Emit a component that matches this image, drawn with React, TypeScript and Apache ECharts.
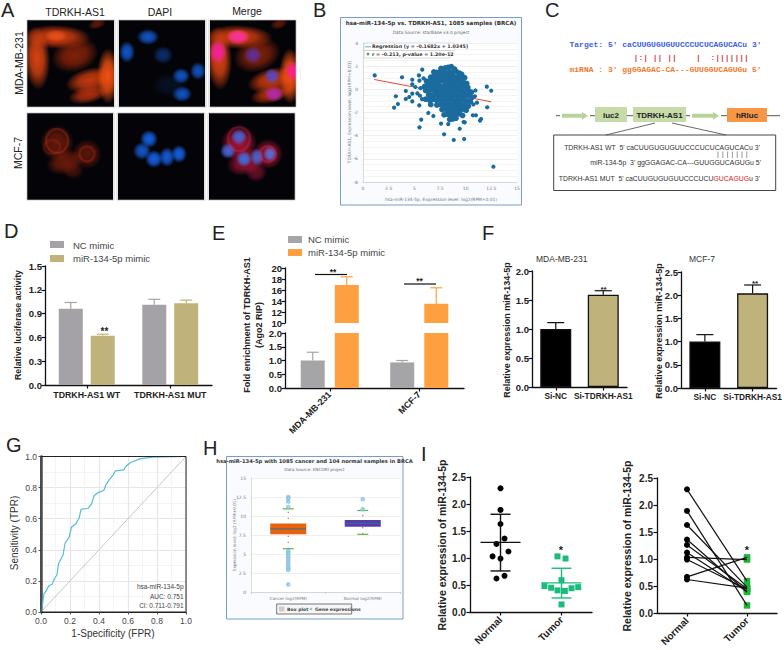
import React, { useEffect, useRef } from "react";
import * as echarts from "echarts";

const SANS = "Liberation Sans";
const MONO = "Liberation Mono";

// ---------- Panel A: micrograph blobs [cx, cy, rx, ry, rotation, "r,g,b", alpha]
const cellsTopRed: any[] = [
  [57, 37, 34, 12, -0.03, "215,62,14", 0.95],
  [56, 36, 12, 6, 0, "245,90,30", 0.7],
  [37, 58, 13, 32, 0.05, "225,70,18", 0.95],
  [75, 55, 24, 17, 0.3, "150,38,10", 0.85],
  [90, 80, 25, 12, 0.25, "205,60,15", 0.95],
  [89, 94, 21, 9, 0.25, "190,52,14", 0.9],
  [108, 76, 11, 28, 0, "240,80,18", 1],
  [97, 24, 9, 5, 0.3, "130,32,10", 0.7],
];
const cellsTopBlue: any[] = [
  [148, 37, 11, 8, 0, "18,85,200", 1],
  [127, 52, 8, 11, 0, "18,85,200", 1],
  [163, 55, 10, 9, 0, "14,55,130", 0.8],
  [181, 76, 9, 8, 0, "18,85,200", 1],
  [198, 71, 8, 9, 0, "18,80,190", 1],
  [182, 94, 10, 8, 0, "18,85,200", 1],
  [170, 85, 18, 12, 0, "10,40,90", 0.35],
];
const cellsBottomRed: any[] = [
  [57, 143, 17, 18, 0, "165,38,12", 0.6],
  [87, 154, 15, 15, 0, "160,36,12", 0.55],
  [65, 162, 19, 12, 0.3, "170,40,12", 0.6],
  [73, 170, 11, 9, 0, "130,30,12", 0.5],
];
const cellsBottomBlue: any[] = [
  [149, 139, 9, 9, 0, "22,95,225", 1],
  [142, 151, 9, 9, 0, "22,85,200", 1],
  [154, 159, 9, 9, 0, "22,95,225", 1],
  [167, 157, 8, 10, 0, "22,90,215", 1],
  [179, 154, 8, 9, 0, "22,95,225", 1],
];
const mergeTopNuclei: any[] = [
  [238, 37, 12, 8, 0, "250,45,165", 0.95],
  [218, 52, 9, 12, 0, "250,30,165", 0.95],
  [253, 55, 9, 9, 0, "90,50,180", 0.85],
  [272, 76, 8, 8, 0, "85,70,210", 0.95],
  [293, 71, 8, 10, 0, "250,30,145", 1],
  [274, 94, 10, 8, 0, "180,40,180", 0.95],
];
const mergeBottomRed: any[] = [
  [239, 143, 18, 18, 0, "215,25,65", 0.75],
  [268, 154, 15, 15, 0, "215,25,65", 0.7],
  [246, 162, 20, 13, 0.3, "205,25,65", 0.7],
  [256, 172, 11, 10, 0, "165,22,55", 0.6],
];
const mergeBottomBlue: any[] = [
  [239, 137, 8, 8, 0, "70,100,215", 1],
  [228, 151, 8, 8, 0, "70,100,215", 1],
  [244, 159, 8, 8, 0, "60,110,225", 1],
  [257, 157, 7, 9, 0, "70,100,205", 1],
  [270, 154, 7, 8, 0, "90,110,215", 1],
];
// [cx, cy, rx, ry, color]
const ringsBottom: any[] = [
  [57, 141, 11, 12, "rgba(215,65,25,0.28)"],
  [87, 154, 7.5, 7.5, "rgba(205,55,20,0.25)"],
  [52, 147, 8, 7, "rgba(195,50,20,0.2)"],
  [239, 139, 11, 12, "rgba(240,50,90,0.25)"],
  [268, 154, 8, 8, "rgba(240,50,90,0.25)"],
];
const imagePanels = [
  [27, 20, 88, 87], [118, 20, 88, 87], [209, 20, 87, 87],
  [27, 113, 87, 87], [117, 113, 88, 87], [208, 113, 87, 87],
];

// ---------- Panel B
const bRegression = [[1.1, 0.85], [12.5, -1.08]];
const bOutliers = [
  [1.14, 1.2], [3.03, -1.58], [3.2, -0.6], [3.4, -1.27], [3.8, 1.04], [4.17, -0.14], [4.17, -0.83], [4.5, -0.66],
  [4.8, 0.83], [4.8, 0.43], [4.8, -0.37], [4.8, -1.04], [5.1, 0.2], [5.45, 1.2], [5.48, -1.38], [5.77, 1.7],
  [5.67, -2.62], [5.5, -3.28], [6.36, -2.04], [6.85, -2.3], [7.6, -2.96], [7.9, -3.88], [8.84, -4.37], [9.85, -4.29],
  [9.42, -3.4], [8.3, -3.0], [12.7, -6.68], [12.06, 0.23], [12.49, -0.12], [12.1, -1.55], [11.0, -2.24], [10.7, -2.24],
  [11.5, -2.56], [11.4, -2.7], [9.8, -2.82], [9.9, -2.85], [5.5, 0.75], [5.9, 0.95], [5.6, 0.1], [5.3, -0.35],
  [5.75, -0.85], [5.55, -0.55], [10.9, -0.6], [11.1, -1.15], [10.75, -1.3], [10.95, -0.1],
];
const bCloud = [
  [7.6, 1.8], [8.0, 1.85], [8.3, 1.9], [8.6, 1.95], [8.9, 1.75],
  [6.9, 1.5], [7.2, 1.45], [7.5, 1.5], [7.85, 1.55], [8.15, 1.4], [8.45, 1.5], [8.75, 1.45], [9.05, 1.55], [9.35, 1.4], [9.6, 1.3],
  [6.6, 1.05], [6.9, 1.1], [7.2, 1.0], [7.5, 1.15], [7.8, 1.05], [8.1, 1.1], [8.4, 1.0], [8.7, 1.15], [9.0, 1.05], [9.3, 1.1], [9.6, 0.95], [9.9, 1.0],
  [6.2, 0.7], [6.55, 0.65], [6.85, 0.75], [7.15, 0.6], [7.45, 0.7], [7.75, 0.8], [8.05, 0.65], [8.35, 0.7], [8.65, 0.75], [8.95, 0.6], [9.25, 0.7], [9.55, 0.65], [9.85, 0.55], [10.1, 0.5],
  [6.0, 0.25], [6.3, 0.3], [6.6, 0.2], [6.9, 0.35], [7.2, 0.25], [7.5, 0.3], [7.8, 0.2], [8.1, 0.35], [8.4, 0.25], [8.7, 0.3], [9.0, 0.2], [9.3, 0.35], [9.6, 0.25], [9.9, 0.3], [10.2, 0.15],
  [6.1, -0.1], [6.4, -0.15], [6.7, -0.05], [7.0, -0.1], [7.3, -0.2], [7.6, -0.05], [7.9, -0.15], [8.2, -0.1], [8.5, 0.0], [8.8, -0.15], [9.1, -0.05], [9.4, -0.1], [9.7, -0.2], [10.0, -0.05], [10.3, -0.15], [10.55, -0.25],
  [6.4, -0.5], [6.7, -0.55], [7.0, -0.45], [7.3, -0.6], [7.6, -0.5], [7.9, -0.55], [8.2, -0.45], [8.5, -0.6], [8.8, -0.5], [9.1, -0.55], [9.4, -0.45], [9.7, -0.6], [10.0, -0.5], [10.3, -0.55], [10.6, -0.7],
  [6.1, -0.85], [6.5, -0.95], [6.85, -0.85], [7.15, -0.95], [7.45, -0.9], [7.75, -1.0], [8.05, -0.85], [8.35, -0.95], [8.65, -0.9], [8.95, -1.0], [9.25, -0.85], [9.55, -0.95], [9.85, -0.9], [10.15, -1.0], [10.45, -1.05],
  [6.6, -1.3], [7.2, -1.35], [7.55, -1.3], [7.85, -1.4], [8.15, -1.3], [8.45, -1.4], [8.75, -1.3], [9.05, -1.4], [9.35, -1.3], [9.65, -1.4], [9.95, -1.3], [10.25, -1.45],
  [7.7, -1.75], [8.0, -1.7], [8.3, -1.8], [8.6, -1.7], [8.9, -1.8], [9.2, -1.7], [9.5, -1.75], [9.8, -1.7], [10.05, -1.8],
  [7.9, -2.2], [8.2, -2.15], [8.5, -2.25], [8.8, -2.15], [9.1, -2.2], [9.4, -2.1], [9.7, -2.25], [8.45, -2.6], [8.75, -2.55], [9.05, -2.5],
  [8.0, 0.5], [8.6, 0.5], [9.15, 0.45], [7.35, 0.45], [7.7, -0.35], [8.3, -0.3], [8.95, -0.3], [9.55, -0.3], [8.1, -1.15], [8.8, -1.15], [9.4, -1.15], [8.45, -1.55], [9.05, -1.55], [7.7, 1.3], [8.6, 1.3], [8.55, -1.95], [9.15, -1.95],
];
const bTicksX = ["0", "2.5", "5", "7.5", "10", "12.5", "15"];

// ---------- Panel D
const dCategories = ["TDRKH-AS1 WT", "TDRKH-AS1 MUT"];
const dNc = [0.96, 1.01];
const dMir = [0.62, 1.03];
const dNcHigh = [1.04, 1.08];
const dMirHigh = [0.64, 1.07];

// ---------- Panel E
const eCategories = ["MDA-MB-231", "MCF-7"];
const eNc = [1.0, 0.93];
const eMir = [16.9, 13.5];
const eNcHigh = [1.3, 1.0];
const eMirHigh = [18.4, 16.4];

// ---------- Panel F
const fCategories = ["Si-NC", "Si-TDRKH-AS1"];
const f1Values = [1.0, 1.59];
const f1High = [1.11, 1.66];
const f2Values = [1.0, 2.04];
const f2High = [1.15, 2.22];

// ---------- Panel G
const rocCurve = [
  [0, 0], [0.01, 0.045], [0.02, 0.116], [0.037, 0.137], [0.053, 0.167], [0.078, 0.18], [0.094, 0.217], [0.11, 0.238],
  [0.12, 0.309], [0.134, 0.335], [0.152, 0.367], [0.166, 0.442], [0.194, 0.481], [0.21, 0.545], [0.24, 0.567],
  [0.263, 0.603], [0.276, 0.66], [0.325, 0.667], [0.348, 0.695], [0.366, 0.747], [0.394, 0.768], [0.433, 0.781],
  [0.447, 0.817], [0.47, 0.85], [0.498, 0.882], [0.514, 0.908], [0.571, 0.914], [0.585, 0.936], [0.618, 0.961],
  [0.682, 0.985], [0.77, 0.996], [1, 1],
];
const rocDiagonal = [[0, 0], [1, 1]];

// ---------- Panel H: [category, low whisker, q1, median, q3, high whisker]
const hCategories = ["Cancer log2(RPM)", "Normal log2(RPM)"];
const hBoxes = [
  [0, 5.69, 7.59, 8.3, 9.0, 10.94],
  [1, 7.59, 8.6, 9.04, 9.48, 10.72],
];
const hOutliers = [
  [0, 12.5], [0, 12.3], [0, 11.9], [0, 11.2], [0, 5.4], [0, 5.15], [0, 4.9], [0, 4.6], [0, 4.3], [0, 4.0], [0, 3.7],
  [0, 3.4], [0, 3.1], [0, 2.9], [0, 1.0], [1, 12.2], [1, 10.9],
];
const hBoxColors = ["#e8620c", "#5a3aa8"];

// ---------- Panel I
const iCategories = ["Normal", "Tumor"];
const iNormal = [[0, 2.29], [0, 1.89], [0, 1.63], [0.066, 1.36], [-0.066, 1.26], [0.13, 1.12], [-0.13, 1.03], [0, 0.99], [0.066, 0.67], [-0.066, 0.62]];
const iTumor = [[0.934, 1.03], [1.066, 0.99], [1, 0.59], [0.72, 0.48], [0.83, 0.45], [0.934, 0.4], [1.055, 0.39], [1.164, 0.44], [1.274, 0.46], [1, 0.14]];
// [x, mean, sd low, sd high]
const iNormalSummary = [[0, 1.29, 0.76, 1.81]];
const iTumorSummary = [[1, 0.54, 0.26, 0.81]];
const pairedNormal = [2.29, 1.89, 1.63, 1.36, 1.26, 1.12, 1.03, 0.99, 0.67, 0.62];
const pairedTumor = [0.59, 0.14, 0.48, 0.39, 0.45, 0.4, 0.99, 0.44, 1.03, 0.46];

// ---------- helpers
const T = (text: string, x: number, y: number, o: any = {}) => ({
  type: "text",
  x,
  y,
  z: 100,
  rotation: o.rot || 0,
  silent: true,
  style: {
    text,
    fill: o.color || "#222",
    fontSize: o.size || 9,
    fontWeight: o.weight || "normal",
    fontFamily: o.family || SANS,
    align: o.align || "left",
    textAlign: o.align || "left",
    verticalAlign: "middle",
    textVerticalAlign: "middle",
    rich: o.rich,
  },
});
const R = (x: number, y: number, w: number, h: number, fill: string, stroke?: string, z = 0, lw = 1) => ({
  type: "rect",
  z,
  silent: true,
  shape: { x, y, width: w, height: h },
  style: { fill, stroke: stroke || "none", lineWidth: lw },
});
const L = (x1: number, y1: number, x2: number, y2: number, stroke = "#222", lineWidth = 1) => ({
  type: "line",
  z: 100,
  silent: true,
  shape: { x1, y1, x2, y2 },
  style: { stroke, lineWidth },
});
const blob = (c: any[], dx = 0) => ({
  type: "ellipse",
  x: c[0] + dx,
  y: c[1],
  rotation: c[4],
  z: 1,
  silent: true,
  shape: { cx: 0, cy: 0, rx: c[2], ry: c[3] },
  style: {
    fill: {
      type: "radial",
      x: 0.5,
      y: 0.5,
      r: 0.5,
      colorStops: [
        { offset: 0, color: `rgba(${c[5]},${c[6]})` },
        { offset: 0.5, color: `rgba(${c[5]},${c[6] * 0.8})` },
        { offset: 0.8, color: `rgba(${c[5]},${c[6] * 0.35})` },
        { offset: 1, color: `rgba(${c[5]},0)` },
      ],
    },
  },
});
const ring = (c: any[]) => ({
  type: "ellipse",
  z: 1,
  silent: true,
  shape: { cx: c[0], cy: c[1], rx: c[2], ry: c[3] },
  style: { fill: "none", stroke: c[4], lineWidth: 2.5 },
});
const arrow = (x1: number, x2: number, y: number) => ({
  type: "polygon",
  z: 100,
  silent: true,
  shape: {
    points: [[x1, y - 2], [x2 - 6, y - 2], [x2 - 6, y - 4], [x2, y], [x2 - 6, y + 4], [x2 - 6, y + 2], [x1, y + 2]],
  },
  style: { fill: "#b7d39a" },
});

const errorSeries = (axis: number, items: number[][], color: string, dx: number, cap: number, lw = 1.2) => ({
  type: "custom",
  xAxisIndex: axis,
  yAxisIndex: axis,
  silent: true,
  clip: false,
  z: 5,
  encode: { x: 0, y: [1, 2] },
  data: items,
  renderItem: (_p: any, api: any) => {
    const a = api.coord([api.value(0), api.value(1)]);
    const b = api.coord([api.value(0), api.value(2)]);
    const x = a[0] + dx;
    const st = { stroke: color, lineWidth: lw };
    return {
      type: "group",
      children: [
        { type: "line", shape: { x1: x, y1: a[1], x2: x, y2: b[1] }, style: st },
        { type: "line", shape: { x1: x - cap / 2, y1: b[1], x2: x + cap / 2, y2: b[1] }, style: st },
      ],
    };
  },
});
const triples = (vals: number[], highs: number[]) => vals.map((v, i) => [i, v, highs[i]]);

const summarySeries = (axis: number, items: number[][], color: string) => ({
  type: "custom",
  xAxisIndex: axis,
  yAxisIndex: axis,
  silent: true,
  z: 6,
  encode: { x: 0, y: [1, 2, 3] },
  data: items,
  renderItem: (_p: any, api: any) => {
    const m = api.coord([api.value(0), api.value(1)]);
    const lo = api.coord([api.value(0), api.value(2)]);
    const hi = api.coord([api.value(0), api.value(3)]);
    const st = { stroke: color, lineWidth: 1.4 };
    const h = (y: number, half: number) => ({ type: "line", shape: { x1: m[0] - half, y1: y, x2: m[0] + half, y2: y }, style: st });
    return {
      type: "group",
      children: [
        { type: "line", shape: { x1: m[0], y1: lo[1], x2: m[0], y2: hi[1] }, style: st },
        h(m[1], 20),
        h(lo[1], 10),
        h(hi[1], 10),
      ],
    };
  },
});

const boldLabel = (extra: any = {}) => ({ fontFamily: SANS, fontWeight: "bold", fontSize: 9.5, color: "#222", margin: 3, ...extra });
const darkLine = { show: true, onZero: false, lineStyle: { color: "#111", width: 1.3 } };
const darkTick = { show: true, length: 3.5, lineStyle: { color: "#111", width: 1.2 } };
const valueY = (gridIndex: number, min: number, max: number, interval: number, digits = 1, extra: any = {}) => ({
  type: "value",
  gridIndex,
  min,
  max,
  interval,
  axisLine: darkLine,
  axisTick: darkTick,
  splitLine: { show: false },
  axisLabel: boldLabel({ formatter: (v: number) => v.toFixed(digits) }),
  ...extra,
});
const catX = (gridIndex: number, data: string[], label: any = {}, extra: any = {}) => ({
  type: "category",
  gridIndex,
  data,
  axisLine: darkLine,
  axisTick: { ...darkTick, alignWithLabel: true },
  splitLine: { show: false },
  axisLabel: boldLabel({ interval: 0, margin: 5, ...label }),
  ...extra,
});
const bars = (axis: number, data: any[], color: string, barWidth: number, barGap: string) => ({
  type: "bar",
  xAxisIndex: axis,
  yAxisIndex: axis,
  data,
  barWidth,
  barGap,
  silent: true,
  itemStyle: { color },
});

// ---------- graphic layer
function buildGraphics(): any[] {
  const g: any[] = [];
  // A
  imagePanels.forEach((p) => g.push(R(p[0], p[1], p[2], p[3], "#040408")));
  cellsTopRed.forEach((c) => g.push(blob(c)));
  cellsTopBlue.forEach((c) => g.push(blob(c)));
  cellsTopRed.forEach((c) => g.push(blob(c, 182)));
  mergeTopNuclei.forEach((c) => g.push(blob(c)));
  cellsBottomRed.forEach((c) => g.push(blob(c)));
  cellsBottomBlue.forEach((c) => g.push(blob(c)));
  mergeBottomRed.forEach((c) => g.push(blob(c)));
  mergeBottomBlue.forEach((c) => g.push(blob(c)));
  ringsBottom.forEach((c) => g.push(ring(c)));
  imagePanels.forEach((p) => {
    g.push(R(p[0] - 2, p[1] - 2, p[2] + 4, p[3] + 4, "none", "#ffffff", 2, 4));
    g.push(R(p[0], p[1], p[2], p[3], "none", "#b8b8b8", 3, 0.7));
  });
  g.push(T("TDRKH-AS1", 75, 11.5, { size: 10.5, align: "center" }));
  g.push(T("DAPI", 160, 11.5, { size: 10.5, align: "center" }));
  g.push(T("Merge", 247, 10.5, { size: 10.5, align: "center" }));
  g.push(T("MDA-MB-231", 19, 63, { size: 10.5, align: "center", rot: Math.PI / 2 }));
  g.push(T("MCF-7", 18, 153, { size: 10.5, align: "center", rot: Math.PI / 2 }));

  // panel letters
  [["A", 1, 10], ["B", 313, 10], ["C", 545, 10], ["D", 4, 231], ["E", 212, 233], ["F", 482, 233], ["G", 6, 445], ["H", 203, 448], ["I", 421, 454]].forEach((l: any) =>
    g.push(T(l[0], l[1], l[2], { size: 20 }))
  );

  // B frame
  g.push(R(340.5, 17.5, 181, 187.5, "#f9fbff", "#7a9cc8", 0, 1));
  g.push(R(363, 43, 154, 139, "#ffffff"));
  g.push(T("hsa-miR-134-5p vs. TDRKH-AS1, 1085 samples (BRCA)", 431, 23, { size: 5.6, weight: "bold", align: "center", family: "DejaVu Sans", color: "#333" }));
  g.push(T("Data Source: starBase v3.0 project", 431, 32, { size: 4.4, align: "center", family: "DejaVu Sans", color: "#666" }));
  g.push(T("TDRKH-AS1, Expression level: log2(RPM+0.01)", 349, 112, { size: 4.4, align: "center", rot: Math.PI / 2, family: "DejaVu Sans", color: "#777" }));
  g.push(T("hsa-miR-134-5p, Expression level: log2(RPM+0.01)", 441, 199, { size: 4.4, align: "center", family: "DejaVu Sans", color: "#777" }));
  g.push({ ...R(364, 43, 90, 7.5, "rgba(255,255,255,0.9)", "#bbbbbb", 100, 0.5) });
  g.push({ ...R(364, 50.5, 86, 7.5, "rgba(255,255,255,0.9)", "#bbbbbb", 100, 0.5) });
  g.push({ ...L(365, 46.8, 371, 46.8, "#2f8fd0", 0.8), z: 101 });
  g.push({ type: "circle", z: 101, silent: true, shape: { cx: 368, cy: 54, r: 1.4 }, style: { fill: "#4caf50" } });
  g.push({ ...T("Regression (y = -0.1682x + 1.0345)", 372, 46.8, { size: 4.8, weight: "bold", family: "DejaVu Sans", color: "#333" }), z: 101 });
  g.push({ ...T("r = -0.213, p-value = 1.20e-12", 372, 54, { size: 4.8, weight: "bold", family: "DejaVu Sans", color: "#333" }), z: 101 });

  // C
  g.push(T("Target: 5' caCUUGUGUGUUCCCUCUCAGUCACu 3'", 569.5, 44.7, { size: 8, weight: "bold", family: MONO, color: "#3c5fe0" }));
  g.push(T("  |:| || ||    |  :|||||||", 624, 57, { size: 8, weight: "bold", family: MONO, color: "#d8404a" }));
  g.push(T("miRNA : 3' ggGGAGAC-CA---GUUGGUCAGUGu 5'", 569.5, 69.3, { size: 8, weight: "bold", family: MONO, color: "#f07a2c" }));
  g.push(L(556, 115.7, 780, 115.7, "#555", 1));
  g.push({ ...R(560, 112, 30, 8, "#ffffff"), z: 100 });
  g.push({ ...R(690, 112, 31, 8, "#ffffff"), z: 100 });
  g.push({ ...arrow(562, 588, 115.7), z: 101 });
  g.push({ ...arrow(692, 719, 115.7), z: 101 });
  g.push({ ...R(595, 107, 32, 15, "#c6dba8"), z: 100 });
  g.push({ ...R(633, 107, 53, 15, "#c6dba8"), z: 100 });
  g.push({ ...R(727, 108, 40, 14, "#f79646"), z: 100 });
  g.push({ ...T("luc2", 611, 115, { size: 8, weight: "bold", align: "center" }), z: 101 });
  g.push({ ...T("TDRKH-AS1", 659.5, 115, { size: 8, weight: "bold", align: "center" }), z: 101 });
  g.push({ ...T("hRluc", 747, 115, { size: 8, weight: "bold", align: "center" }), z: 101 });
  g.push(L(655, 123, 606, 135, "#444", 0.8));
  g.push(L(672, 123, 726, 135, "#444", 0.8));
  g.push(R(553.7, 135, 222, 55.5, "#ffffff", "#444", 0, 1));
  g.push(T("TDRKH-AS1 WT  5' caCUUGUGUGUUCCCUCUCAGUCACu 3'", 760, 147, { size: 6.9, align: "right", color: "#333" }));
  for (let i = 0; i < 7; i++) g.push(L(718 + i * 4.8, 151.5, 718 + i * 4.8, 158, "#555", 0.6));
  g.push(T("miR-134-5p  3' ggGGAGAC-CA---GUUGGUCAGUGu 5'", 761, 162.7, { size: 6.9, align: "right", color: "#333" }));
  g.push(
    T("{a|TDRKH-AS1 MUT  5' caCUUGUGUGUUCCCUCU}{b|GUCAGUG}{a|u 3'}", 760, 178, {
      size: 6.9,
      align: "right",
      color: "#333",
      rich: {
        a: { fontSize: 6.9, fontFamily: SANS, fill: "#333", color: "#333" },
        b: { fontSize: 6.9, fontFamily: SANS, fill: "#e02020", color: "#e02020" },
      },
    })
  );

  // D
  g.push(R(50, 241, 14, 7, "#a4a2a6"));
  g.push(R(50, 255, 14, 7, "#bfb27a"));
  g.push(T("NC mimic", 73, 245, { size: 9.5, color: "#444" }));
  g.push(T("miR-134-5p mimic", 73, 258.5, { size: 9.5, color: "#444" }));
  g.push(T("Relative luciferase activity", 18, 325, { size: 8.8, weight: "bold", align: "center", rot: Math.PI / 2 }));
  g.push(T("**", 104.5, 331, { size: 10, weight: "bold", align: "center" }));

  // E
  g.push(R(288, 236, 14, 7, "#a5a4a6"));
  g.push(R(288, 249, 14, 7, "#ffa040"));
  g.push(T("NC mimic", 308, 239.5, { size: 9.5, color: "#444" }));
  g.push(T("miR-134-5p mimic", 308, 252.5, { size: 9.5, color: "#444" }));
  g.push(T("Fold enrichment of TDRKH-AS1", 247, 325, { size: 9, weight: "bold", align: "center", rot: Math.PI / 2 }));
  g.push(T("(Ago2 RIP)", 259, 325, { size: 9, weight: "bold", align: "center", rot: Math.PI / 2 }));
  g.push(L(315, 274.5, 347, 274.5, "#111", 1.2));
  g.push(L(404, 284, 436, 284, "#111", 1.2));
  g.push(T("**", 333, 271.5, { size: 8.5, weight: "bold", align: "center" }));
  g.push(T("**", 419.5, 281, { size: 8.5, weight: "bold", align: "center" }));

  // F
  g.push(T("MDA-MB-231", 536, 259, { size: 8.5, color: "#333" }));
  g.push(T("MCF-7", 689, 259, { size: 8.5, color: "#333" }));
  g.push(T("Relative expression miR-134-5p", 507, 330, { size: 9, weight: "bold", align: "center", rot: Math.PI / 2 }));
  g.push(T("Relative expression miR-134-5p", 659, 331, { size: 9, weight: "bold", align: "center", rot: Math.PI / 2 }));
  g.push(T("**", 603.5, 289, { size: 8, weight: "bold", align: "center" }));
  g.push(T("**", 755, 283, { size: 8, weight: "bold", align: "center" }));

  // G
  g.push(R(41, 456.5, 145, 155.5, "none", "#222", 100, 1));
  g.push(T("Sensitivity (TPR)", 14, 533, { size: 10, align: "center", rot: Math.PI / 2, color: "#333" }));
  g.push(T("1-Specificity (FPR)", 113, 633.5, { size: 10, align: "center", color: "#333" }));
  g.push(T("hsa-miR-134-5p", 183.5, 586.5, { size: 6.5, align: "right", color: "#444" }));
  g.push(T("AUC: 0.751", 183.5, 596, { size: 6.5, align: "right", color: "#444" }));
  g.push(T("CI: 0.711-0.791", 183.5, 605, { size: 6.5, align: "right", color: "#444" }));

  // H
  g.push(R(226.5, 456.5, 176.5, 162.5, "#f9fbff", "#7a9cc8", 0, 1));
  g.push(R(251, 478, 149, 114, "#ffffff"));
  g.push(T("hsa-miR-134-5p with 1085 cancer and 104 normal samples in BRCA", 314.5, 461, { size: 5.2, weight: "bold", align: "center", family: "DejaVu Sans", color: "#333" }));
  g.push(T("Data Source: ENCORI project", 314.5, 469.5, { size: 4.2, align: "center", family: "DejaVu Sans", color: "#666" }));
  g.push(T("Expression level: log2 (RPM+0.01)", 234, 535, { size: 4.2, align: "center", rot: Math.PI / 2, family: "DejaVu Sans", color: "#777" }));
  g.push(R(276.7, 604, 75, 10, "#f6f6f6", "#555", 0, 0.8));
  g.push({ ...R(279, 606.5, 5.5, 5, "#cccccc"), z: 100 });
  g.push(T("Box plot", 287, 609, { size: 4.6, weight: "bold", family: "DejaVu Sans", color: "#444" }));
  g.push({ type: "circle", z: 100, silent: true, shape: { cx: 311, cy: 609, r: 1.3 }, style: { fill: "#8ac6e8" } });
  g.push(T("Gene expressions", 315, 609, { size: 4.6, weight: "bold", family: "DejaVu Sans", color: "#444" }));

  // I
  g.push(T("Relative expression of miR-134-5p", 442, 545, { size: 10.5, weight: "bold", align: "center", rot: Math.PI / 2 }));
  g.push(T("Relative expression of miR-134-5p", 627, 546, { size: 10.5, weight: "bold", align: "center", rot: Math.PI / 2 }));
  g.push(T("*", 561, 550, { size: 11, weight: "bold", align: "center" }));
  g.push(T("*", 747, 550, { size: 11, weight: "bold", align: "center" }));
  return g;
}

function buildOption(): any {
  const grids = [
    { left: 363, top: 43, width: 154, height: 139 }, // 0 B
    { left: 45, top: 266, width: 167, height: 119 }, // 1 D
    { left: 285, top: 268, width: 179, height: 55 }, // 2 E upper
    { left: 285, top: 333, width: 179, height: 55 }, // 3 E lower
    { left: 532, top: 271, width: 95, height: 116 }, // 4 F1
    { left: 681, top: 272, width: 99, height: 116 }, // 5 F2
    { left: 41, top: 456.5, width: 145, height: 155.5 }, // 6 G
    { left: 251, top: 478, width: 149, height: 114 }, // 7 H
    { left: 470, top: 477, width: 122, height: 135 }, // 8 I1
    { left: 657, top: 478, width: 120, height: 135 }, // 9 I2
  ];
  const xAxis: any[] = [
    {
      type: "value", gridIndex: 0, min: 0, max: 15, interval: 2.5,
      axisLine: { show: true, onZero: false, lineStyle: { color: "#ccc", width: 0.7 } }, axisTick: { show: false }, splitLine: { show: false },
      axisLabel: { fontSize: 4.5, color: "#777", fontFamily: "DejaVu Sans", margin: 4, formatter: (_v: number, i: number) => bTicksX[i] },
    },
    catX(1, dCategories, { fontSize: 8.8 }),
    catX(2, eCategories, {}, { show: false }),
    catX(3, eCategories, { rotate: 45, fontSize: 9 }),
    catX(4, fCategories, { fontSize: 8.3 }),
    catX(5, fCategories, { fontSize: 8.3 }),
    {
      type: "value", gridIndex: 6, min: 0, max: 1, interval: 0.2,
      axisLine: { show: true, onZero: false, lineStyle: { color: "#222", width: 1 } },
      axisTick: { show: true, length: 2.5, lineStyle: { color: "#555" } },
      axisLabel: { fontSize: 8.5, color: "#444", fontFamily: SANS, margin: 4, formatter: (v: number) => v.toFixed(1) },
      splitLine: { show: true, lineStyle: { color: "#e6e6e6", width: 1.2 } },
      minorTick: { show: false, splitNumber: 2 },
      minorSplitLine: { show: true, lineStyle: { color: "#f1f1f1", width: 0.8 } },
    },
    {
      type: "category", gridIndex: 7, data: hCategories,
      axisLine: { show: true, lineStyle: { color: "#ccc", width: 0.7 } }, axisTick: { show: true, length: 2, lineStyle: { color: "#ccc" } },
      axisLabel: { fontSize: 4.2, color: "#777", fontFamily: "DejaVu Sans", margin: 4 }, splitLine: { show: false },
    },
    catX(8, iCategories, { rotate: 45, fontSize: 10, margin: 6 }),
    catX(9, iCategories, { rotate: 45, fontSize: 10, margin: 6 }),
    { type: "value", gridIndex: 8, show: false, min: -0.5, max: 1.5 }, // 10: jitter axis for I1
  ];
  const yAxis: any[] = [
    {
      type: "value", gridIndex: 0, min: -8, max: 4, interval: 2,
      axisLine: { show: true, onZero: false, lineStyle: { color: "#ccc", width: 0.7 } }, axisTick: { show: false },
      axisLabel: { fontSize: 4.5, color: "#777", fontFamily: "DejaVu Sans", margin: 5 },
      splitLine: { show: true, lineStyle: { color: "#e4e4e4", width: 0.6 } },
      minorTick: { show: false, splitNumber: 4 },
      minorSplitLine: { show: true, lineStyle: { color: "#ededed", width: 0.6 } },
    },
    valueY(1, 0, 1.5, 0.3),
    valueY(2, 10, 20, 2, 0),
    valueY(3, 0, 2, 0.5),
    valueY(4, 0, 2, 0.5),
    valueY(5, 0, 2.5, 0.5),
    {
      type: "value", gridIndex: 6, min: 0, max: 1, interval: 0.2,
      axisLine: { show: true, onZero: false, lineStyle: { color: "#777", width: 3 } },
      axisTick: { show: true, length: 2.5, lineStyle: { color: "#555" } },
      axisLabel: { fontSize: 8.5, color: "#444", fontFamily: SANS, margin: 4, formatter: (v: number) => v.toFixed(1) },
      splitLine: { show: true, lineStyle: { color: "#e6e6e6", width: 1.2 } },
      minorTick: { show: false, splitNumber: 2 },
      minorSplitLine: { show: true, lineStyle: { color: "#f1f1f1", width: 0.8 } },
    },
    {
      type: "value", gridIndex: 7, min: 0, max: 15, interval: 2.5,
      axisLine: { show: true, onZero: false, lineStyle: { color: "#ccc", width: 0.7 } }, axisTick: { show: false },
      axisLabel: { fontSize: 4.5, color: "#777", fontFamily: "DejaVu Sans", margin: 5 },
      splitLine: { show: true, lineStyle: { color: "#e8e8e8", width: 0.7 } },
    },
    valueY(8, 0, 2.5, 0.5, 1, { axisLabel: boldLabel({ fontSize: 10, margin: 4, formatter: (v: number) => v.toFixed(1) }) }),
    valueY(9, 0, 2.5, 0.5, 1, { axisLabel: boldLabel({ fontSize: 10, margin: 4, formatter: (v: number) => v.toFixed(1) }) }),
    { type: "value", gridIndex: 8, show: false, min: 0, max: 2.5 }, // 10 mirrors I1's value axis for the jitter x axis
  ];

  const series: any[] = [
    // B
    { type: "line", xAxisIndex: 0, yAxisIndex: 0, data: bRegression, symbol: "none", silent: true, z: 2, lineStyle: { color: "#e8483a", width: 1 } },
    { type: "scatter", xAxisIndex: 0, yAxisIndex: 0, data: bOutliers, symbolSize: 4.2, silent: true, z: 3, itemStyle: { color: "#1b6b9e", opacity: 1 } },
    { type: "scatter", xAxisIndex: 0, yAxisIndex: 0, data: bCloud, symbolSize: 5.8, silent: true, z: 3, itemStyle: { color: "#1b6b9e", opacity: 1 } },
    // D
    bars(1, dNc, "#a4a2a6", 24, "33%"),
    bars(1, dMir, "#bfb27a", 24, "33%"),
    errorSeries(1, triples(dNc, dNcHigh), "#a4a2a6", -16, 12),
    errorSeries(1, triples(dMir, dMirHigh), "#bfb27a", 16, 12),
    // E upper
    bars(2, eNc, "#a5a4a6", 24, "42%"),
    bars(2, eMir, "#ffa040", 24, "42%"),
    errorSeries(2, triples(eMir, eMirHigh), "#ffa040", 17, 12),
    // E lower
    bars(3, eNc, "#a5a4a6", 24, "42%"),
    bars(3, eMir, "#ffa040", 24, "42%"),
    errorSeries(3, triples(eNc, eNcHigh), "#a5a4a6", -17, 12),
    // F
    {
      ...bars(4, f1Values.map((v, i) => ({ value: v, itemStyle: { color: i ? "#bfb27a" : "#000" } })), "#000", 31, "0%"),
      itemStyle: { borderColor: "#111", borderWidth: 1.3 },
    },
    errorSeries(4, triples(f1Values, f1High), "#111", 0, 17),
    {
      ...bars(5, f2Values.map((v, i) => ({ value: v, itemStyle: { color: i ? "#bfb27a" : "#000" } })), "#000", 31, "0%"),
      itemStyle: { borderColor: "#111", borderWidth: 1.3 },
    },
    errorSeries(5, triples(f2Values, f2High), "#111", 0, 17),
    // G
    { type: "line", xAxisIndex: 6, yAxisIndex: 6, data: rocDiagonal, symbol: "none", silent: true, lineStyle: { color: "#c8c8c8", width: 1 } },
    { type: "line", xAxisIndex: 6, yAxisIndex: 6, data: rocCurve, symbol: "none", silent: true, lineStyle: { color: "#55bcdc", width: 1.2 } },
    // H
    {
      type: "custom", xAxisIndex: 7, yAxisIndex: 7, silent: true, z: 3,
      encode: { x: 0, y: [1, 2, 3, 4, 5] }, data: hBoxes,
      renderItem: (p: any, api: any) => {
        const cat = api.value(0);
        const c = (i: number) => api.coord([cat, api.value(i)]);
        const lo = c(1), q1 = c(2), med = c(3), q3 = c(4), hi = c(5);
        const w = 18;
        const green = { stroke: "#5cb544", lineWidth: 1.2 };
        return {
          type: "group",
          children: [
            { type: "line", shape: { x1: lo[0], y1: lo[1], x2: lo[0], y2: hi[1] }, style: { stroke: "#d03020", lineWidth: 1.2, lineDash: [1, 5] } },
            { type: "line", shape: { x1: lo[0] - 5.5, y1: lo[1], x2: lo[0] + 5.5, y2: lo[1] }, style: green },
            { type: "line", shape: { x1: hi[0] - 5.5, y1: hi[1], x2: hi[0] + 5.5, y2: hi[1] }, style: green },
            { type: "rect", shape: { x: q3[0] - w, y: q3[1], width: 2 * w, height: q1[1] - q3[1] }, style: { fill: hBoxColors[p.dataIndex] } },
            { type: "line", shape: { x1: med[0] - w, y1: med[1], x2: med[0] + w, y2: med[1] }, style: { stroke: "#2c6fa0", lineWidth: 1 } },
          ],
        };
      },
    },
    { type: "scatter", xAxisIndex: 7, yAxisIndex: 7, data: hOutliers, symbol: "emptyCircle", symbolSize: 2.6, silent: true, z: 4, itemStyle: { color: "#7fc0e4", borderWidth: 0.6 } },
    // I1
    { type: "scatter", xAxisIndex: 10, yAxisIndex: 10, data: iNormal, symbol: "circle", symbolSize: 6, silent: true, z: 4, itemStyle: { color: "#000", opacity: 1 } },
    { type: "scatter", xAxisIndex: 10, yAxisIndex: 10, data: iTumor, symbol: "rect", symbolSize: 6, silent: true, z: 4, itemStyle: { color: "#1abc7e", opacity: 1 } },
    summarySeries(10, iNormalSummary, "#111"),
    summarySeries(10, iTumorSummary, "#1abc7e"),
  ];
  // I2
  pairedNormal.forEach((v, i) =>
    series.push({ type: "line", xAxisIndex: 9, yAxisIndex: 9, data: [[0, v], [1, pairedTumor[i]]], symbol: "none", silent: true, z: 3, lineStyle: { color: "#111", width: 1.2 } })
  );
  series.push({ type: "scatter", xAxisIndex: 9, yAxisIndex: 9, data: pairedTumor.map((v) => [1, v]), symbol: "rect", symbolSize: 6.5, silent: true, z: 2, itemStyle: { color: "#1fb53a", opacity: 1 } });
  series.push({ type: "scatter", xAxisIndex: 9, yAxisIndex: 9, data: pairedNormal.map((v) => [0, v]), symbol: "circle", symbolSize: 6, silent: true, z: 4, itemStyle: { color: "#000", opacity: 1 } });

  return {
    animation: false,
    backgroundColor: "#fff",
    textStyle: { fontFamily: SANS },
    grid: grids.map((g) => ({ containLabel: false, ...g })),
    xAxis,
    yAxis,
    series,
    graphic: { elements: buildGraphics() },
  };
}

export default function App() {
  const ref = useRef<HTMLDivElement>(null);
  useEffect(() => {
    const chart = echarts.init(ref.current!, undefined, { renderer: "svg" });
    chart.setOption(buildOption());
    return () => chart.dispose();
  }, []);
  return <div ref={ref} style={{ position: "absolute", left: 0, top: 0, width: 784, height: 650 }} />;
}
